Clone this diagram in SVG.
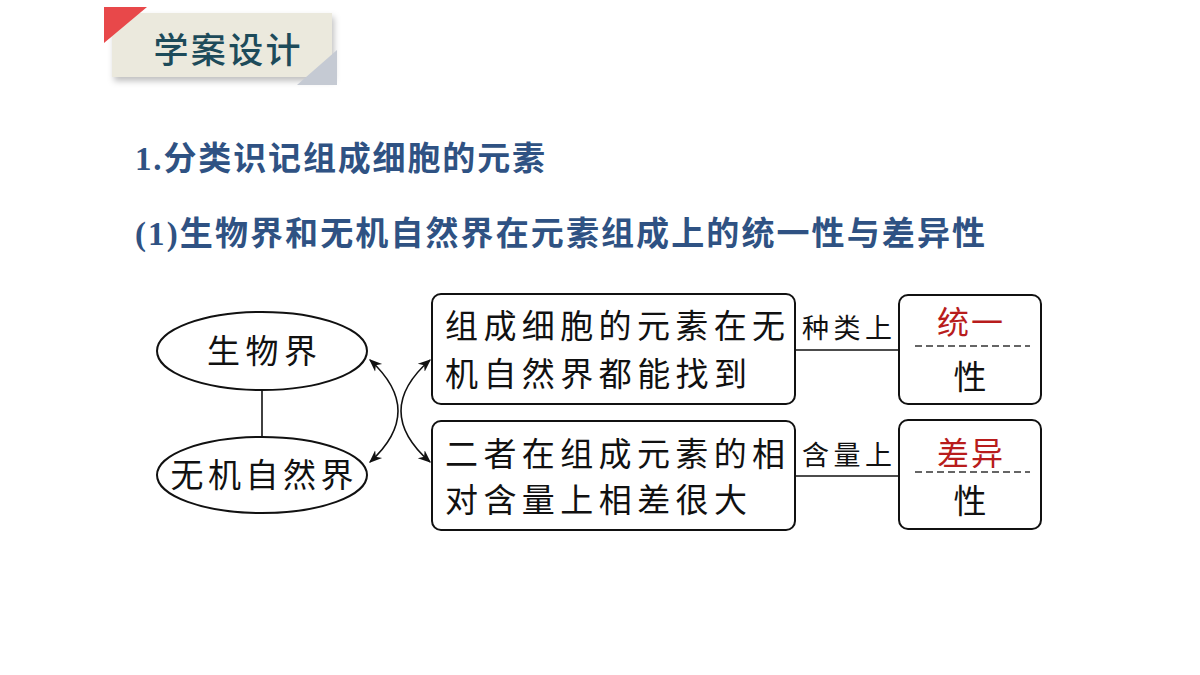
<svg xmlns="http://www.w3.org/2000/svg" width="1200" height="675" viewBox="0 0 1200 675">
<defs>
<style>
.t{font-family:"Liberation Serif","Noto Sans CJK SC",serif;font-weight:bold;fill:#2f5283;font-size:33px}
.n{font-family:"Noto Sans CJK SC","Noto Sans CJK JP",sans-serif;fill:#111;font-size:33px}
.s{font-family:"Noto Sans CJK SC",sans-serif;fill:#111;font-size:27px}
.r{font-family:"Noto Sans CJK SC",sans-serif;fill:#b81c1c;font-size:32px}
.box{fill:#fff;stroke:#111;stroke-width:2}
.ln{fill:none;stroke:#111;stroke-width:1.6}
.dash{stroke:#333;stroke-width:1.6;stroke-dasharray:7 4}
</style>
<marker id="ah" viewBox="0 0 10 10" refX="9" refY="5" markerWidth="13" markerHeight="13" orient="auto-start-reverse" markerUnits="userSpaceOnUse">
<path d="M0,1 L10,5 L0,9 L3,5 Z" fill="#111"/>
</marker>
<filter id="sh" x="-10%" y="-10%" width="130%" height="140%">
<feDropShadow dx="2" dy="4" stdDeviation="3" flood-color="#000" flood-opacity="0.25"/>
</filter>
</defs>
<rect width="1200" height="675" fill="#fff"/>

<g id="header">
<rect x="112" y="13" width="220" height="64" fill="#ebe9dd" filter="url(#sh)"/>
<polygon points="104,7 147,7 104,43" fill="#e8484a"/>
<polygon points="337,50 337,85 297,85" fill="#c5cad3"/>
<text x="227" y="63" text-anchor="middle" font-family="Noto Sans CJK SC, sans-serif" font-weight="500" font-size="35" fill="#1d4b5a" textLength="147" lengthAdjust="spacing">学案设计</text>
</g>

<g id="titles">
<text class="t" x="135" y="170" textLength="410" lengthAdjust="spacing">1.<tspan font-family="Noto Sans CJK SC, sans-serif">分类识记组成细胞的元素</tspan></text>
<text class="t" x="135" y="245" textLength="850" lengthAdjust="spacing">(1)<tspan font-family="Noto Sans CJK SC, sans-serif">生物界和无机自然界在元素组成上的统一性与差异性</tspan></text>
</g>

<g id="connectors">
<line class="ln" x1="262" y1="390" x2="262" y2="437"/>
<path class="ln" d="M370,360 Q426,411 370,462" marker-start="url(#ah)" marker-end="url(#ah)"/>
<path class="ln" d="M430,360 Q372,411 430,462" marker-start="url(#ah)" marker-end="url(#ah)"/>
<line class="ln" x1="795" y1="350" x2="899" y2="350"/>
<line class="ln" x1="795" y1="476" x2="899" y2="476"/>
<text class="s" x="802" y="338" textLength="90" lengthAdjust="spacing">种类上</text>
<text class="s" x="802" y="465" textLength="90" lengthAdjust="spacing">含量上</text>
</g>

<g id="node-shengwujie">
<ellipse class="box" cx="262" cy="351" rx="105" ry="39"/>
<text class="n" x="262" y="363" text-anchor="middle" textLength="110" lengthAdjust="spacing">生物界</text>
</g>

<g id="node-wujiziranjie">
<ellipse class="box" cx="262" cy="475" rx="105" ry="38"/>
<text class="n" x="262" y="487" text-anchor="middle" textLength="183" lengthAdjust="spacing">无机自然界</text>
</g>

<g id="node-box1">
<rect class="box" x="432" y="294" width="363" height="110" rx="9"/>
<text class="n" x="445" y="338" textLength="340" lengthAdjust="spacing">组成细胞的元素在无</text>
<text class="n" x="445" y="386" textLength="302" lengthAdjust="spacing">机自然界都能找到</text>
</g>

<g id="node-box2">
<rect class="box" x="432" y="421" width="363" height="109" rx="9"/>
<text class="n" x="445" y="466" textLength="340" lengthAdjust="spacing">二者在组成元素的相</text>
<text class="n" x="445" y="512" textLength="302" lengthAdjust="spacing">对含量上相差很大</text>
</g>

<g id="node-tongyi">
<rect class="box" x="899" y="295" width="142" height="109" rx="9"/>
<text class="r" x="970" y="334" text-anchor="middle" textLength="66" lengthAdjust="spacing">统一</text>
<line class="dash" x1="915" y1="346" x2="1030" y2="346"/>
<text class="n" x="970" y="389" text-anchor="middle">性</text>
</g>

<g id="node-chayi">
<rect class="box" x="899" y="420" width="142" height="109" rx="9"/>
<text class="r" x="970" y="465" text-anchor="middle" textLength="66" lengthAdjust="spacing">差异</text>
<line class="dash" x1="915" y1="472" x2="1030" y2="472"/>
<text class="n" x="970" y="513" text-anchor="middle">性</text>
</g>
</svg>
